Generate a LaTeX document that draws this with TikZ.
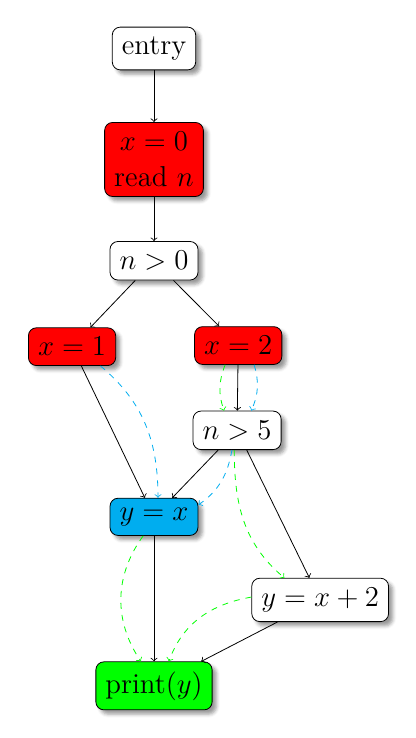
\documentclass[tikz,border=0pt]{standalone}
\usepackage{xcolor}
\usepackage{tikz}
\usetikzlibrary{shapes,arrows,positioning,shadows.blur}

\begin{document}
\begin{tikzpicture}[node distance=1.5cm, auto,
  block/.style={rectangle, draw, fill=white, rounded corners, font=\Large, inner sep=4.8pt, align=center, blur shadow},
  redblock/.style={block, fill=red},
  arrow/.style={->},
  cyanflow/.style={->, dashed, cyan},
  greenflow/.style={->, dashed, green}]

  \node [block] (entry) {entry};
  \useasboundingbox ([xshift=-77pt,yshift=24.25pt]entry.center) rectangle ([xshift=131pt,yshift=-344.75pt]entry.center);
  \node [redblock, below of=entry, node distance=1.95cm] (init) {$x=0$\\read $n$};
  \node [block, below of=init, node distance=1.78cm] (ngt0) {$n>0$};
  \node [redblock, below of=ngt0, node distance=1.51cm, xshift=-1.44cm] (xone) {$x=1$};
  \node [redblock, below of=ngt0, node distance=1.49cm, xshift=1.48cm] (xtwo) {$x=2$};
  \node [block, below of=xtwo, node distance=1.49cm, xshift=-0.02cm] (ngt5) {$n>5$};
  \node [block, fill=cyan, below of=ngt0, node distance=4.5cm] (yeqx) {$y=x$};
  \node [block, below of=yeqx, node distance=1.46cm, xshift=2.92cm] (yeqx2) {$y=x+2$};
  \node [block, fill=green, below of=yeqx, node distance=2.97cm] (printy) {print$(y)$};

  \draw [arrow] (entry) -- (init);
  \draw [arrow] (init) -- (ngt0);
  \draw [arrow] (ngt0) -- (xone);
  \draw [arrow] (ngt0) -- (xtwo);
  \draw [arrow] (xone) -- (yeqx);
  \draw [arrow] (xtwo) -- (ngt5);
  \draw [arrow] (ngt5) -- (yeqx);
  \draw [arrow] (ngt5) -- (yeqx2);
  \draw [arrow] (yeqx) -- (printy);
  \draw [arrow] (yeqx2) -- (printy);

  % dashed flow edges
  \draw [cyanflow] ([xshift=0.5cm]xone.south) to[out=-40, in=90] ([xshift=0.07cm]yeqx.north);
  \draw [cyanflow] ([xshift=0.28cm]xtwo.south) to[bend left=20] ([xshift=0.25cm]ngt5.north);
  \draw [greenflow] ([xshift=-0.23cm]xtwo.south) to[bend right=20] ([xshift=-0.23cm]ngt5.north);
  \draw [cyanflow] ([xshift=-0.09cm]ngt5.south) to[out=-100, in=35] ([yshift=0.21cm]yeqx.east);
  \draw [greenflow] ([xshift=-0.05cm]ngt5.south) to[out=-90, in=140] ([xshift=-0.63cm]yeqx2.north);
  \draw [greenflow] ([xshift=-0.19cm]yeqx.south) to[bend right=35] ([xshift=-0.23cm]printy.north);
  \draw [greenflow] ([yshift=0.05cm]yeqx2.west) to[out=190, in=70] ([xshift=0.26cm]printy.north);
\end{tikzpicture}
\end{document}
